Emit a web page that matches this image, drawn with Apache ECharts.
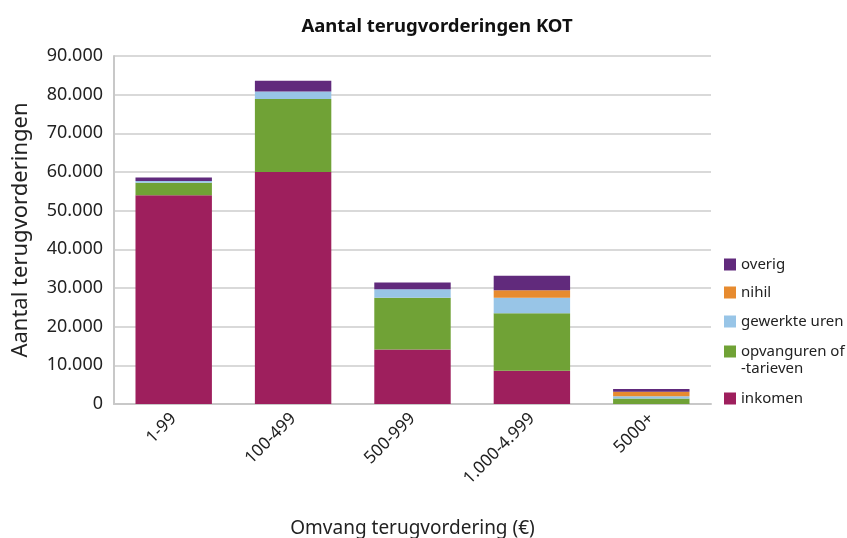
<!DOCTYPE html>
<html><head><meta charset="utf-8">
<script src="https://cdn.jsdelivr.net/npm/echarts@6/dist/echarts.min.js"></script>
<style>html,body{margin:0;padding:0;background:#fff}#c{width:847px;height:538px}</style>
</head><body><div id="c"></div>
<script>
var categories = ['1-99', '100-499', '500-999', '1.000-4.999', '5000+'];
var inkomen = [54000, 60000, 14100, 8600, 0];
var opvanguren = [3200, 18900, 13400, 14850, 1400];
var gewerkteUren = [450, 1900, 2150, 4050, 600];
var nihil = [0, 0, 0, 1900, 1200];
var overig = [950, 2800, 1800, 3800, 700];
var yTicks = [0, 10000, 20000, 30000, 40000, 50000, 60000, 70000, 80000, 90000];

var names = ['inkomen', 'opvanguren of -tarieven', 'gewerkte uren', 'nihil', 'overig'];
var colors = ['#9e1f5d', '#70a236', '#98c5e7', '#e78b2f', '#612a7c'];
var datas = [inkomen, opvanguren, gewerkteUren, nihil, overig];
var FONT = 'Noto Sans';

var series = names.map(function (n, i) {
  return { name: n, type: 'bar', stack: 'a', data: datas[i], barCategoryGap: '36%',
    itemStyle: { color: colors[i] }, emphasis: { disabled: true } };
});
var legendTops = [386, 339, 309, 280, 252];
var legends = names.map(function (n, i) {
  return { left: 719, top: legendTops[i], orient: 'vertical', data: [n],
    itemWidth: 12, itemHeight: 12, itemGap: 0, icon: 'rect',
    formatter: function (name) { return name === 'opvanguren of -tarieven' ? 'opvanguren of' : name; },
    textStyle: { fontFamily: FONT, fontSize: 15, color: '#222' } };
});
var chart = echarts.init(document.getElementById('c'), null, { renderer: 'canvas' });
chart.setOption({
  animation: false,
  color: colors,
  title: { text: 'Aantal terugvorderingen KOT', left: 432, textAlign: 'center', top: 12,
    textStyle: { fontFamily: FONT, fontWeight: 'bold', fontSize: 18.5, color: '#111' } },
  legend: legends,
  graphic: [{ type: 'text', left: 741, top: 361,
    style: { text: '-tarieven', font: '15px "Noto Sans"', fill: '#222' } }],
  grid: { left: 114, right: 136, top: 56, bottom: 134, containLabel: false, outerBoundsMode: 'none' },
  xAxis: { type: 'category', data: categories,
    name: 'Omvang terugvordering (€)', nameLocation: 'middle', nameGap: 115,
    nameTextStyle: { fontFamily: FONT, fontSize: 19, color: '#222' },
    axisLine: { lineStyle: { color: '#c8c8c8', width: 2 } }, axisTick: { show: false },
    axisLabel: { rotate: 45, margin: 12, fontFamily: FONT, fontSize: 17, color: '#222' } },
  yAxis: { type: 'value', min: yTicks[0], max: yTicks[yTicks.length - 1], interval: 10000,
    name: 'Aantal terugvorderingen', nameLocation: 'middle', nameGap: 82,
    nameTextStyle: { fontFamily: FONT, fontSize: 22, color: '#222' },
    axisLine: { show: true, lineStyle: { color: '#c8c8c8', width: 2 } }, axisTick: { show: false },
    splitLine: { lineStyle: { color: '#d9d9d9', width: 2 } },
    axisLabel: { margin: 11, fontFamily: FONT, fontSize: 18, color: '#222',
      formatter: function (v) { return v.toString().replace(/\B(?=(\d{3})+(?!\d))/g, '.'); } } },
  series: series
});
</script></body></html>
